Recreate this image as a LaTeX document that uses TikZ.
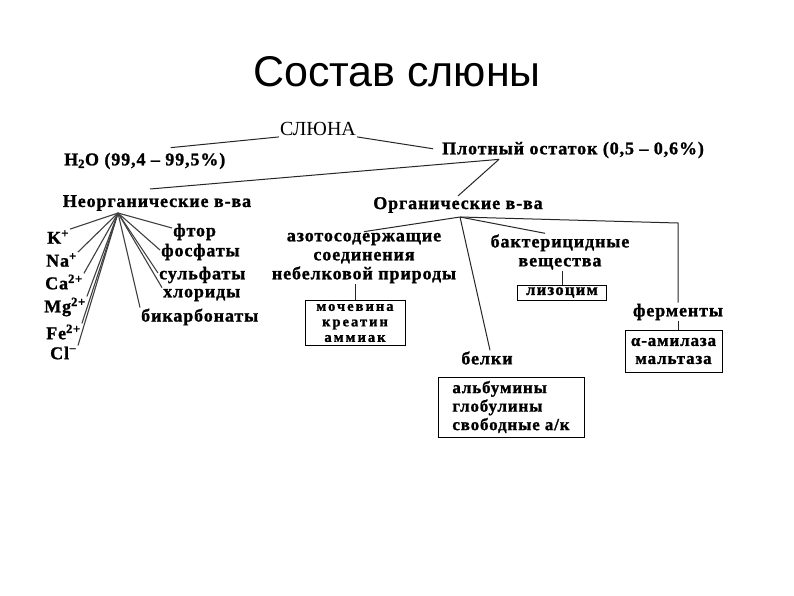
\documentclass[tikz,border=0pt]{standalone}
\usepackage{fontspec}
\setmainfont{Liberation Serif}
\newfontfamily\lblfont[LetterSpace=5, BoldFont={Liberation Serif Bold}, BoldFeatures={FakeBold=1.2}]{Liberation Serif}
\newfontfamily\boxfont[LetterSpace=8, BoldFont={Liberation Serif Bold}, BoldFeatures={FakeBold=1.2}]{Liberation Serif}
\newfontfamily\widefont[LetterSpace=14, BoldFont={Liberation Serif Bold}, BoldFeatures={FakeBold=1.3}]{Liberation Serif}
\newfontfamily\titlefont{Liberation Sans}
\usetikzlibrary{calc}
\begin{document}
\begin{tikzpicture}[x=1pt,y=-1pt,
  lbl/.style={font=\lblfont\bfseries\fontsize{18}{19}\selectfont, inner sep=1pt, align=center},
  boxed/.style={draw, line width=1pt, inner sep=0pt, align=center},
  conn/.style={line width=1pt, black!85},
  fan/.style={line width=1.1pt, black!75}]
\useasboundingbox[fill=white] (0,0) rectangle (794,595);

% title
\node[font=\titlefont\fontsize{43}{50}\selectfont] (title) at (397,72) {Состав слюны};

% top level
\node[font=\fontsize{20}{22}\selectfont, inner sep=1pt] (sal) at (318,129) {СЛЮНА};
\node[lbl, anchor=west] (h2o) at (63,161) {H\textsubscript{2}O (99,4 – 99,5\%)};
\node[lbl, anchor=west] (dense) at (441,150) {Плотный остаток (0,5 – 0,6\%)};

\draw[conn] (sal.south west) -- ($(h2o.north)+(26,-4)$);
\draw[conn, shorten >=8pt] (sal.south east) -- (dense.west);

% second level
\node[lbl] (inorg) at (157,203) {Неорганические в-ва};
\node[lbl] (org) at (458,205) {Органические в-ва};
\coordinate (dfan) at ($(dense.south west)+(58,0)$);
\draw[conn] (dfan) -- ($(inorg.north)+(-7,-5)$);
\draw[conn] (dfan) -- (org.north);

% inorganic fan
\coordinate (ifan) at (118,213);
\node[lbl, anchor=west] (k)  at (46,237) {K\textsuperscript{+}};
\node[lbl, anchor=west] (na) at (45,260) {Na\textsuperscript{+}};
\node[lbl, anchor=west] (ca) at (44,282) {Ca\textsuperscript{2+}};
\node[lbl, anchor=west] (mg) at (43,307) {Mg\textsuperscript{2+}};
\node[lbl, anchor=west] (fe) at (45,332) {Fe\textsuperscript{2+}};
\node[lbl, anchor=west] (cl) at (49,353) {Cl\textsuperscript{−}};

\node[lbl, anchor=west] (ftor) at (172,232) {фтор};
\node[lbl, anchor=west] (fosf) at (160,252) {фосфаты};
\node[lbl, anchor=west] (sulf) at (158,275) {сульфаты};
\node[lbl, anchor=west] (chlor) at (162,295) {хлориды};
\node[lbl, anchor=west] (bikarb) at (140,317) {бикарбонаты};

\foreach \n in {k,na,ca,mg,fe,cl}
  \draw[fan] (ifan) -- (\n.north east);
\draw[fan] (ifan) -- ($(ftor.west)+(0,-4)$);
\draw[fan] (ifan) -- ($(fosf.west)+(0,-2)$);
\draw[fan] (ifan) -- ($(sulf.west)+(0,-2)$);
\draw[fan] (ifan) -- (chlor.north west);
\draw[fan] (ifan) -- (bikarb.north west);

% organic branch
\coordinate (ofan) at (460,217);
\node[lbl] (azot) at (364,258) {азотосодержащие\\соединения\\небелковой природы};
\node[boxed, minimum width=100pt, minimum height=45pt,
      font=\widefont\bfseries\fontsize{14.5}{15.5}\selectfont] (moch) at (355,323) {мочевина\\креатин\\аммиак};
\draw[conn] (ofan) -- (azot.north);
\draw[conn] (azot.south -| moch.north) -- (moch.north);

\node[lbl] (bakt) at (560,252) {бактерицидные\\вещества};
\node[boxed, minimum width=89pt, minimum height=15pt,
      font=\boxfont\bfseries\fontsize{16.5}{18}\selectfont] (lyso) at (562,292.5) {лизоцим};
\draw[conn] (ofan) -- ($(bakt.north)+(-15,0)$);
\draw[conn] (bakt.south -| lyso.north) -- (lyso.north);

\node[lbl] (ferm) at (678,312) {ферменты};
\node[boxed, minimum width=97pt, minimum height=42pt,
      font=\lblfont\bfseries\fontsize{17}{18}\selectfont] (amyl) at (673.5,351) {α-амилаза\\мальтаза};
\coordinate (fcorner) at (678,223);
\draw[conn] (ofan) -- (fcorner) -- (ferm.north);
\draw[conn] (ferm.south -| fcorner) -- (amyl.north -| fcorner);

\node[lbl] (belki) at (487,358) {белки};
\node[boxed, minimum width=146pt, minimum height=60pt, align=left,
      font=\lblfont\bfseries\fontsize{17}{18.5}\selectfont] (prot) at (511,407) {альбумины\\глобулины\\свободные а/к};
\draw[conn] (ofan) -- ($(belki.north)+(3,0)$);
\draw[conn] ($(belki.south)+(6,0)$) -- ($(belki.south)+(6,0)$ |- prot.north);
\end{tikzpicture}
\end{document}
